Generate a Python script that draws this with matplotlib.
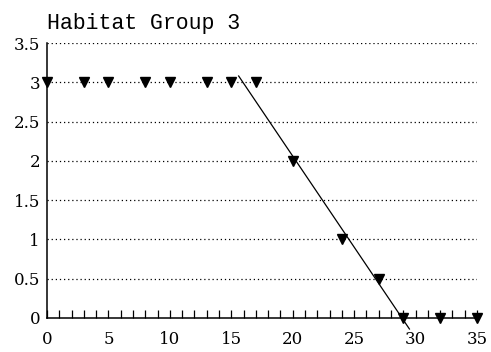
import matplotlib
matplotlib.use("Agg")
import matplotlib.pyplot as plt
from matplotlib.ticker import MultipleLocator

# Datenpunkte (Dreiecke)
x_points = [0, 3, 5, 8, 10, 13, 15, 17, 20, 24, 27, 29, 32, 35]
y_points = [3, 3, 3, 3, 3, 3, 3, 3, 2, 1, 0.5, 0, 0, 0]

# Regressionslinie (Endpunkte)
line_x = [15.6, 29.5]
line_y = [3.08, -0.14]

title = "Habitat Group 3"
x_ticks = [0, 5, 10, 15, 20, 25, 30, 35]
y_ticks = [0, 0.5, 1, 1.5, 2, 2.5, 3, 3.5]
y_labels = ["0", "0.5", "1", "1.5", "2", "2.5", "3", "3.5"]

fig = plt.figure(figsize=(4.91, 3.52), dpi=100)
ax = fig.add_axes([47 / 491, 34 / 352, 430 / 491, 275 / 352])

# gepunktete Gitterlinien
for y in y_ticks[1:]:
    ax.axhline(y, color="black", linestyle=(0, (1, 2.3)), linewidth=0.9, zorder=1)

ax.plot(line_x, line_y, color="black", linewidth=0.9, zorder=2, clip_on=False)
ax.plot(x_points, y_points, linestyle="none", marker="v", color="black",
        markersize=7, zorder=3, clip_on=False)

ax.set_xlim(0, 35)
ax.set_ylim(0, 3.5)
ax.set_xticks(x_ticks)
ax.set_yticks(y_ticks)
ax.set_yticklabels(y_labels)
ax.xaxis.set_minor_locator(MultipleLocator(1))

for s in ["top", "right"]:
    ax.spines[s].set_visible(False)
ax.spines["left"].set_linewidth(1.1)
ax.spines["bottom"].set_linewidth(1.1)

ax.tick_params(axis="x", which="both", direction="in", length=5.5, width=0.9, pad=9)
ax.tick_params(axis="y", length=0, pad=5)
for lab in ax.get_xticklabels() + ax.get_yticklabels():
    lab.set_fontfamily("DejaVu Serif")
    lab.set_fontsize(12)

ax.set_title(title, loc="left", pad=10, fontsize=15.5, family="Liberation Mono")

fig.savefig("out.png", dpi=100)
